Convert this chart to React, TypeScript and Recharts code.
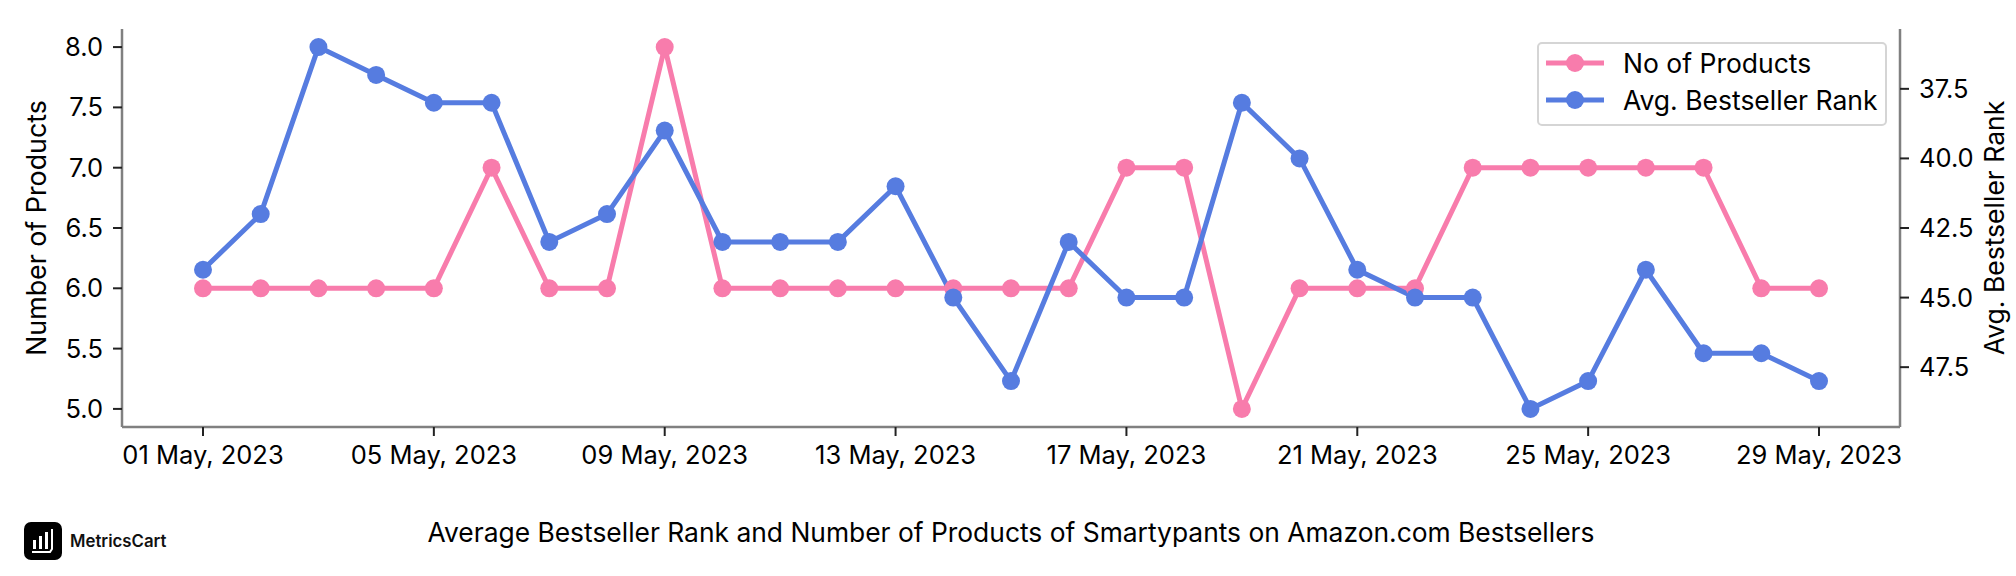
import { LineChart, Line, XAxis, YAxis, Legend } from "recharts";

const days = [
  "01", "02", "03", "04", "05", "06", "07", "08", "09", "10",
  "11", "12", "13", "14", "15", "16", "17", "18", "19", "20",
  "21", "22", "23", "24", "25", "26", "27", "28", "29",
];
const products = [6, 6, 6, 6, 6, 7, 6, 6, 8, 6, 6, 6, 6, 6, 6, 6, 7, 7, 5, 6, 6, 6, 7, 7, 7, 7, 7, 6, 6];
const ranks = [44, 42, 36, 37, 38, 38, 43, 42, 39, 43, 43, 43, 41, 45, 48, 43, 45, 45, 38, 40, 44, 45, 45, 49, 48, 44, 47, 47, 48];
const leftTicks = [5, 5.5, 6, 6.5, 7, 7.5, 8];
const rightTicks = [37.5, 40, 42.5, 45, 47.5];

const data = days.map((d, i) => ({
  date: `${d} May, 2023`,
  products: products[i],
  rank: ranks[i],
}));

const FONT = "Inter, sans-serif";
const PINK = "#F87CAC";
const BLUE = "#567CE0";
const AXIS = "#808080";

const tickStyle = { fontSize: 25.5, fontFamily: FONT, fill: "#000" };
const axisLine = { stroke: AXIS, strokeWidth: 2.5 };
const tickLine = { stroke: "#222", strokeWidth: 2 };

const legendRows = [
  { label: "No of Products", color: PINK },
  { label: "Avg. Bestseller Rank", color: BLUE },
];

const ChartLegend = () => (
  <div
    style={{
      width: 350,
      height: 84,
      boxSizing: "border-box",
      border: "2.5px solid #d5d5d5",
      borderRadius: 5,
      background: "#fff",
      padding: "0 0 0 7px",
      fontFamily: FONT,
      fontSize: 26.5,
      whiteSpace: "nowrap",
    }}
  >
    {legendRows.map((r) => (
      <div key={r.label} style={{ display: "flex", alignItems: "center", height: 37 }}>
        <svg width={60} height={24}>
          <line x1={0} x2={58} y1={12} y2={12} stroke={r.color} strokeWidth={5} />
          <circle cx={29} cy={12} r={9} fill={r.color} />
        </svg>
        <span style={{ marginLeft: 17, color: "#000" }}>{r.label}</span>
      </div>
    ))}
  </div>
);

export default function App() {
  return (
    <div style={{ position: "absolute", left: 0, top: 0, width: 2016, height: 576, background: "#fff" }}>
      <LineChart
        width={2016}
        height={576}
        data={data}
        margin={{ top: 29, right: 0, bottom: 15, left: 0 }}
      >
        <XAxis
          dataKey="date"
          interval={3}
          padding={{ left: 81, right: 81 }}
          height={50}
          tick={tickStyle}
          tickSize={9}
          tickMargin={10}
          axisLine={axisLine}
          tickLine={tickLine}
        />
        <YAxis
          yAxisId="left"
          width={122}
          domain={[4.85, 8.15]}
          ticks={leftTicks}
          interval={0}
          tickFormatter={(v: number) => v.toFixed(1)}
          tick={tickStyle}
          tickSize={9}
          tickMargin={10}
          axisLine={axisLine}
          tickLine={tickLine}
          label={{
            value: "Number of Products",
            angle: -90,
            position: "insideLeft",
            offset: 36,
            style: { fontSize: 26.8, fontFamily: FONT, fill: "#000", textAnchor: "middle" },
          }}
        />
        <YAxis
          yAxisId="right"
          orientation="right"
          width={116}
          reversed
          domain={[35.35, 49.65]}
          ticks={rightTicks}
          interval={0}
          tickFormatter={(v: number) => v.toFixed(1)}
          tick={tickStyle}
          tickSize={9}
          tickMargin={10}
          axisLine={axisLine}
          tickLine={tickLine}
          label={{
            value: "Avg. Bestseller Rank",
            angle: -90,
            position: "insideRight",
            offset: 21,
            style: { fontSize: 26.5, fontFamily: FONT, fill: "#000", textAnchor: "middle" },
          }}
        />
        <Legend
          content={<ChartLegend />}
          wrapperStyle={{ position: "absolute", left: 1537, top: 42, width: 350 }}
        />
        <Line
          yAxisId="left"
          dataKey="products"
          stroke={PINK}
          strokeWidth={5}
          dot={{ r: 9, fill: PINK, stroke: PINK, strokeWidth: 0 }}
          isAnimationActive={false}
        />
        <Line
          yAxisId="right"
          dataKey="rank"
          stroke={BLUE}
          strokeWidth={5}
          dot={{ r: 9, fill: BLUE, stroke: BLUE, strokeWidth: 0 }}
          isAnimationActive={false}
        />
      </LineChart>
      <div
        style={{
          position: "absolute",
          left: 0,
          width: 2022,
          top: 516,
          textAlign: "center",
          fontFamily: FONT,
          fontSize: 26.4,
          color: "#000",
          whiteSpace: "nowrap",
        }}
      >
        Average Bestseller Rank and Number of Products of Smartypants on Amazon.com Bestsellers
      </div>
      <svg style={{ position: "absolute", left: 24, top: 522 }} width={160} height={40}>
        <rect x={0} y={0} width={38} height={38} rx={7} fill="#000" />
        <rect x={9} y={18} width={3} height={9} fill="#fff" />
        <rect x={15} y={14} width={3} height={13} fill="#fff" />
        <rect x={21} y={10} width={3} height={17} fill="#fff" />
        <path d="M28 7 V27 L26 30 H8" stroke="#fff" strokeWidth={2} fill="none" />
        <text x={46} y={25} fontFamily={FONT} fontSize={16.8} fontWeight={600} fill="#111">
          MetricsCart
        </text>
      </svg>
    </div>
  );
}
